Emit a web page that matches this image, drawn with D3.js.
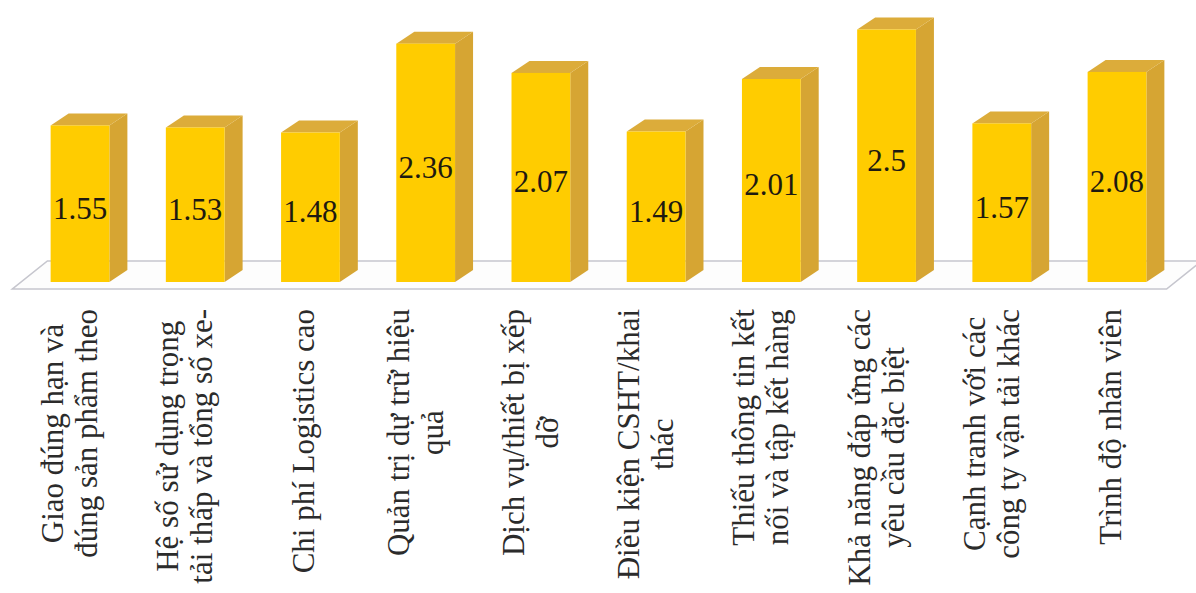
<!DOCTYPE html>
<html>
<head>
<meta charset="utf-8">
<script src="https://cdn.jsdelivr.net/npm/d3@7/dist/d3.min.js"></script>
<style>
  html, body { margin: 0; padding: 0; background: #ffffff; overflow: hidden; }
  svg { display: block; }
  .serif { font-family: "Liberation Serif", "Tinos", "DejaVu Serif", "Times New Roman", serif; }
</style>
</head>
<body>
<svg id="chart" width="1196" height="593"></svg>
<script>
// ---- Data ----
const categoryLines = [
  ["Giao đúng hạn và", "đúng sản phẩm theo"],
  ["Hệ số sử dụng trọng", "tải thấp và tổng số xe-"],
  ["Chi phí Logistics cao"],
  ["Quản trị dự trữ hiệu", "quả"],
  ["Dịch vụ/thiết bị xếp", "dỡ"],
  ["Điều kiện CSHT/khai", "thác"],
  ["Thiếu thông tin kết", "nối và tập kết hàng"],
  ["Khả năng đáp ứng các", "yêu cầu đặc biệt"],
  ["Cạnh tranh với các", "công ty vận tải khác"],
  ["Trình độ nhân viên"]
];
const categories = categoryLines.map(l => l.join(" "));
const values = [1.55, 1.53, 1.48, 2.36, 2.07, 1.49, 2.01, 2.5, 1.57, 2.08];
const valueLabels = ["1.55", "1.53", "1.48", "2.36", "2.07", "1.49", "2.01", "2.5", "1.57", "2.08"];

// ---- Layout ----
const baseY = 282;          // bar front baseline
const depthX = 18, depthY = 12;
const svg = d3.select("#chart");

const x = d3.scaleBand()
  .domain(categories)
  .range([22.4, 1174.6])
  .paddingInner(0.49)
  .paddingOuter(0.245);

const y = d3.scaleLinear()
  .domain([0, 2.8])
  .range([baseY, baseY - 2.8 * 101]);

const bw = x.bandwidth();

// ---- Floor (3D plane) ----
const fl = x.range()[0] - 10, fr = x.range()[1] - 8;
const floorFront = y(0) + 7, floorBack = y(0) - 21, floorDX = 35;
svg.append("polygon")
  .attr("points", [
    [fl, floorFront], [fr, floorFront],
    [fr + floorDX, floorBack], [fl + floorDX, floorBack]
  ].map(p => p.join(",")).join(" "))
  .attr("fill", "#fdfdfd")
  .attr("stroke", "#c6c6ce")
  .attr("stroke-width", 1.6);

// ---- Bars ----
const bars = svg.append("g").selectAll("g.bar")
  .data(categories.map((c, i) => ({ c, v: values[i], label: valueLabels[i] })))
  .join("g").attr("class", "bar");

// side face
bars.append("polygon")
  .attr("points", d => {
    const x0 = x(d.c) + bw, yt = y(d.v), yb = y(0);
    return [[x0, yt], [x0 + depthX, yt - depthY], [x0 + depthX, yb - depthY], [x0, yb]]
      .map(p => p.join(",")).join(" ");
  })
  .attr("fill", "#d6a533");

// top face
bars.append("polygon")
  .attr("points", d => {
    const x0 = x(d.c), yt = y(d.v);
    return [[x0, yt], [x0 + depthX, yt - depthY], [x0 + bw + depthX, yt - depthY], [x0 + bw, yt]]
      .map(p => p.join(",")).join(" ");
  })
  .attr("fill", "#dcac3a");

// front face
bars.append("rect")
  .attr("x", d => x(d.c))
  .attr("y", d => y(d.v))
  .attr("width", bw)
  .attr("height", d => y(0) - y(d.v))
  .attr("fill", "#ffcc00");

// value labels
bars.append("text")
  .attr("class", "serif")
  .attr("x", d => x(d.c) + bw / 2)
  .attr("y", d => (y(d.v) + y(0)) / 2 + 4)
  .attr("dy", "0.35em")
  .attr("text-anchor", "middle")
  .style("font-size", "31px")
  .attr("fill", "#1e1a10")
  .text(d => d.label);

// ---- Category labels (rotated) ----
const labelTop = 309, lineGap = 34;
const labels = svg.append("g").selectAll("g.cat")
  .data(categories.map((c, i) => ({ c, lines: categoryLines[i] })))
  .join("g").attr("class", "cat")
  .attr("transform", d => `translate(${x(d.c) + bw / 2},${labelTop}) rotate(-90)`);

labels.each(function(d) {
  const g = d3.select(this);
  const n = d.lines.length;
  const texts = d.lines.map((line, i) =>
    g.append("text")
      .attr("class", "serif")
      .attr("text-anchor", "middle")
      .style("font-size", "31px")
      .attr("fill", "#2b2b2b")
      .attr("y", (n === 1 ? 4 : 0) + (i - (n - 1) / 2) * lineGap)
      .text(line)
  );
  const maxLen = d3.max(texts, t => t.node().getComputedTextLength());
  texts.forEach(t => t.attr("x", -maxLen / 2));
});
</script>
</body>
</html>
